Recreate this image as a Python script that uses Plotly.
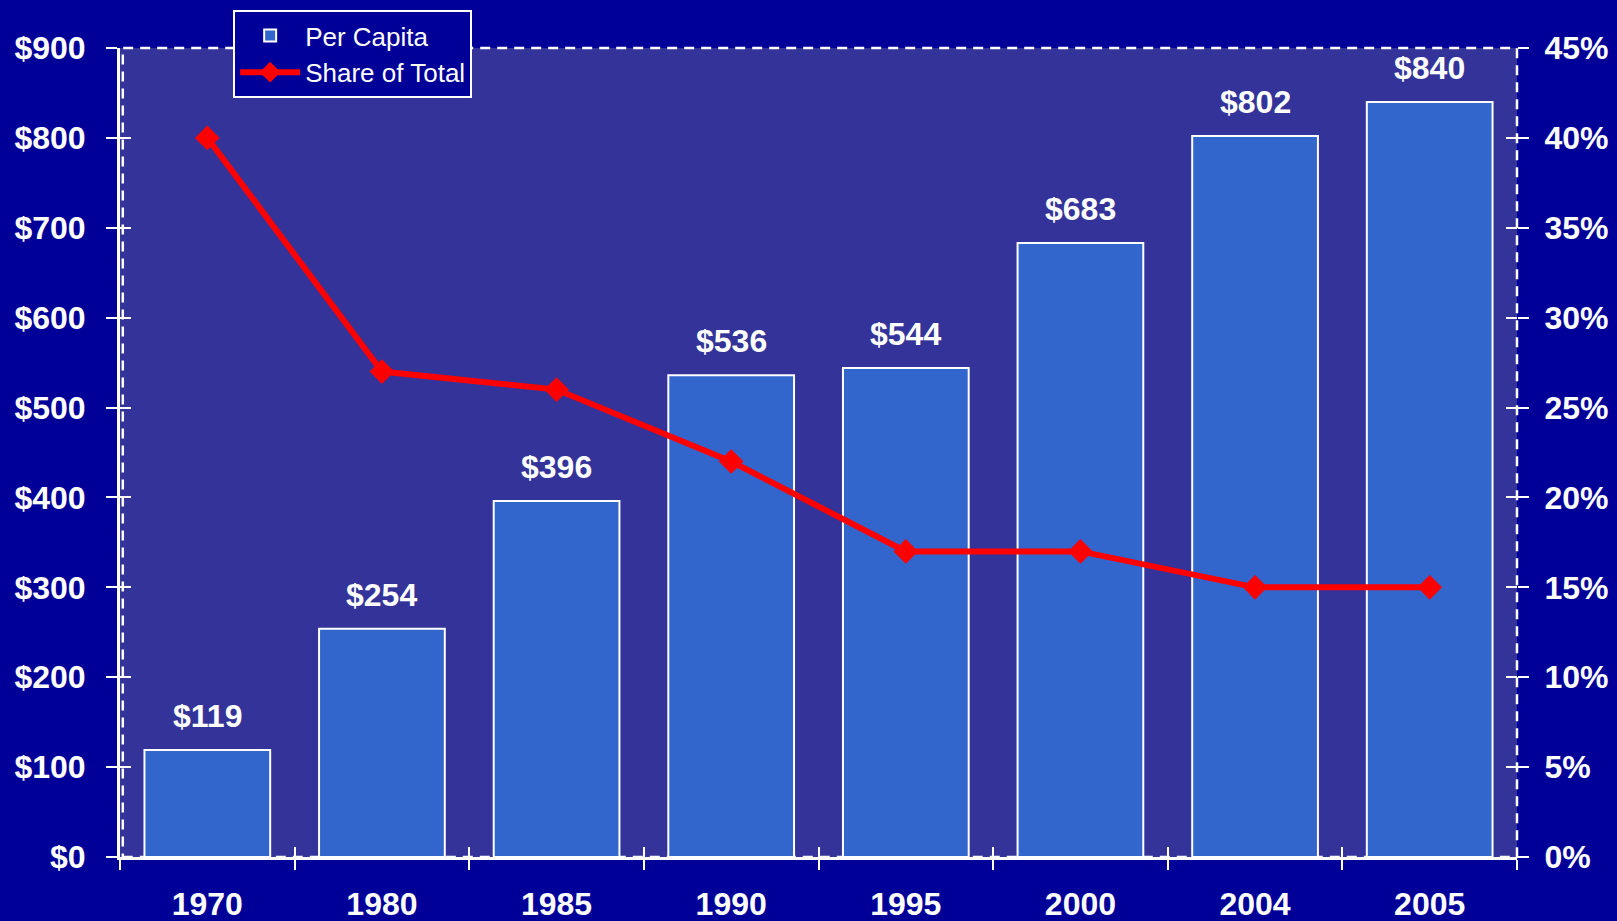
import plotly.graph_objects as go

years = ["1970", "1980", "1985", "1990", "1995", "2000", "2004", "2005"]
per_capita = [119, 254, 396, 536, 544, 683, 802, 840]
share_pct = [40, 27, 26, 22, 17, 17, 15, 15]
left_ticks = [0, 100, 200, 300, 400, 500, 600, 700, 800, 900]
left_labels = ["$" + str(v) for v in left_ticks]
right_ticks = [0, 5, 10, 15, 20, 25, 30, 35, 40, 45]
right_labels = [str(v) + "%" for v in right_ticks]

FONT = "Liberation Sans, Arial, sans-serif"
WHITE = "#FFFFFF"

fig = go.Figure()
fig.add_trace(go.Bar(
    x=years, y=per_capita, name="Per Capita", legendgroup="a",
    marker=dict(color="#3366CC", line=dict(color=WHITE, width=2)),
    xaxis="x", yaxis="y",
))
fig.add_trace(go.Scatter(
    x=years, y=share_pct, name="Share of Total", mode="lines+markers", legendgroup="b",
    line=dict(color="#FF0000", width=6),
    marker=dict(symbol="diamond", size=19, color="#FF0000"),
    xaxis="x", yaxis="y2", cliponaxis=False,
))
# invisible helper traces for the overlay tick axes
fig.add_trace(go.Scatter(x=years, y=per_capita, mode="markers", marker=dict(opacity=0),
                         showlegend=False, hoverinfo="skip", xaxis="x2", yaxis="y3"))
fig.add_trace(go.Scatter(x=years, y=share_pct, mode="markers", marker=dict(opacity=0),
                         showlegend=False, hoverinfo="skip", xaxis="x2", yaxis="y4"))

labelfont = dict(family=FONT, size=32, color=WHITE, weight="bold")
# category axis: annotation x given as category serial number
annotations = [
    dict(x=i, y=val, xref="x", yref="y", text="$" + str(val), showarrow=False,
         yanchor="bottom", yshift=14, font=labelfont)
    for i, val in enumerate(per_capita)
]

tickfont = dict(family=FONT, size=32, color=WHITE, weight="bold")
xcommon = dict(type="category", categoryarray=years, range=[-0.5, 7.5],
               tickson="boundaries", ticklen=10, tickwidth=2, tickcolor=WHITE,
               showgrid=False, zeroline=False)
fig.update_layout(
    width=1617, height=921,
    paper_bgcolor="#000099", plot_bgcolor="#333399",
    margin=dict(l=120, r=100, t=48, b=64, autoexpand=False),
    bargap=0.28,
    showlegend=True,
    annotations=annotations,
    legend=dict(x=0.081, y=1.047, xanchor="left", yanchor="top",
                bgcolor="#000099", bordercolor=WHITE, borderwidth=2,
                itemwidth=60, tracegroupgap=4, traceorder="normal",
                font=dict(family=FONT, size=26, color=WHITE)),
    xaxis=dict(**xcommon, ticks="outside", showline=True, linecolor=WHITE, linewidth=3,
               tickfont=tickfont, ticklabelstandoff=17),
    xaxis2=dict(**xcommon, ticks="inside", overlaying="x", showticklabels=False, showline=False,
                anchor="y"),
    yaxis=dict(range=[0, 900], tickvals=left_ticks, ticktext=left_labels,
               ticks="outside", ticklen=11, tickwidth=2, tickcolor=WHITE,
               showline=True, linecolor=WHITE, linewidth=3, showgrid=False, zeroline=False,
               tickfont=tickfont, ticklabelstandoff=14),
    yaxis2=dict(range=[0, 45], tickvals=right_ticks, ticktext=right_labels, side="right",
                overlaying="y", ticks="outside", ticklen=11, tickwidth=2, tickcolor=WHITE,
                showline=False, showgrid=False, zeroline=False,
                tickfont=tickfont, ticklabelstandoff=9),
    yaxis3=dict(range=[0, 900], tickvals=left_ticks, overlaying="y", side="left",
                ticks="inside", ticklen=11, tickwidth=2, tickcolor=WHITE,
                showticklabels=False, showgrid=False, zeroline=False, showline=False),
    yaxis4=dict(range=[0, 45], tickvals=right_ticks, overlaying="y", side="right",
                ticks="inside", ticklen=11, tickwidth=2, tickcolor=WHITE,
                showticklabels=False, showgrid=False, zeroline=False, showline=False),
    shapes=[dict(type="rect", xref="paper", yref="paper", x0=0.002, x1=1, y0=0, y1=1,
                 line=dict(color=WHITE, width=2.5, dash="10px,7px"), layer="below")],
)
fig.write_html("out.html", config={"displayModeBar": False},
               post_script="document.body.style.margin='0';document.body.style.background='#000099';")
